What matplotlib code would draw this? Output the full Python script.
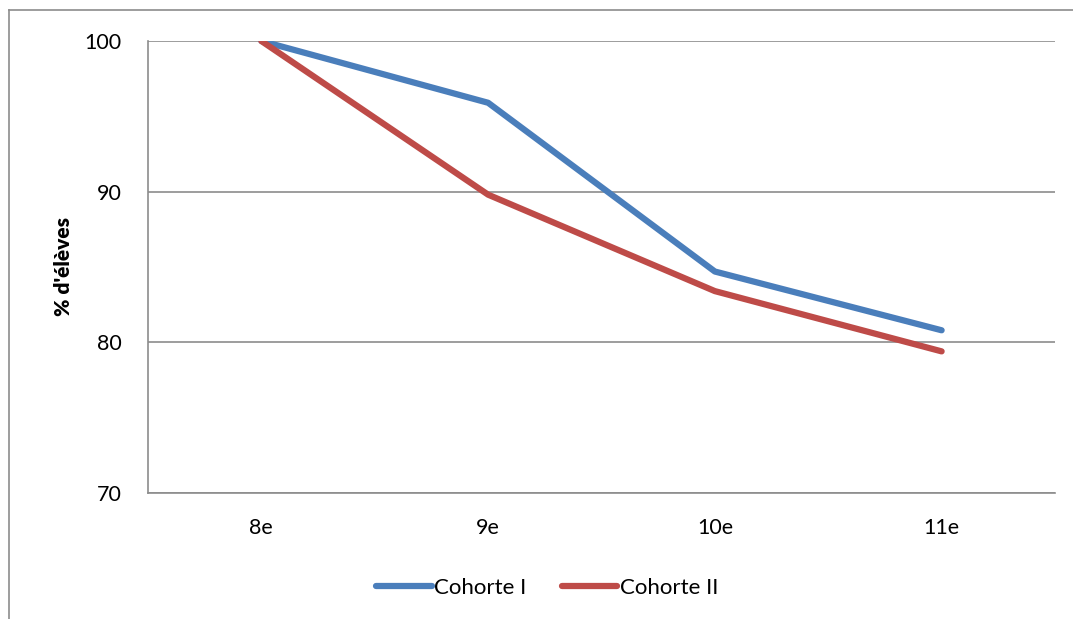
import matplotlib.pyplot as plt
from matplotlib.lines import Line2D

grades = ['8e', '9e', '10e', '11e']
cohorte_1 = [100, 95.9, 84.7, 80.8]
cohorte_2 = [100, 89.8, 83.4, 79.4]
y_ticks = [70, 80, 90, 100]

plt.rcParams['font.family'] = ['Lato', 'DejaVu Sans']

fig = plt.figure(figsize=(10.73, 6.19), dpi=100)
ax = fig.add_axes([148 / 1073, 126 / 619, 907 / 1073, 452 / 619])

x = range(len(grades))
ax.plot(x, cohorte_1, color='#4a7ebb', lw=4.5, solid_capstyle='round', label='Cohorte I')
ax.plot(x, cohorte_2, color='#be4b48', lw=4.5, solid_capstyle='round', label='Cohorte II')

ax.set_xlim(-0.5, len(grades) - 0.5)
ax.set_ylim(70, 100)
ax.set_xticks(list(x))
ax.set_xticklabels(grades)
ax.set_yticks(y_ticks)
ax.tick_params(length=0, labelsize=15.5)
ax.tick_params(axis='x', pad=18)
ax.tick_params(axis='y', pad=19)
ax.grid(axis='y', color='#8c8c8c', lw=1.2)
ax.set_axisbelow(True)
for side in ['top', 'right']:
    ax.spines[side].set_visible(False)
for side in ['left', 'bottom']:
    ax.spines[side].set_color('#8c8c8c')
    ax.spines[side].set_linewidth(1.2)
ax.set_ylabel("% d'élèves", fontsize=15, fontweight='heavy', labelpad=8)

ax.legend(loc='center', bbox_to_anchor=(0.44, -0.21), ncol=2, frameon=False,
          fontsize=16, handlelength=2.5, handletextpad=0.1, columnspacing=1.6)

# outer chart frame (only left and top edges visible)
fig.add_artist(Line2D([9 / 1073, 9 / 1073], [0, 1 - 10 / 619], color='#8c8c8c', lw=1.2))
fig.add_artist(Line2D([9 / 1073, 1], [1 - 10 / 619, 1 - 10 / 619], color='#8c8c8c', lw=1.2))

fig.savefig('out.png', dpi=100)
